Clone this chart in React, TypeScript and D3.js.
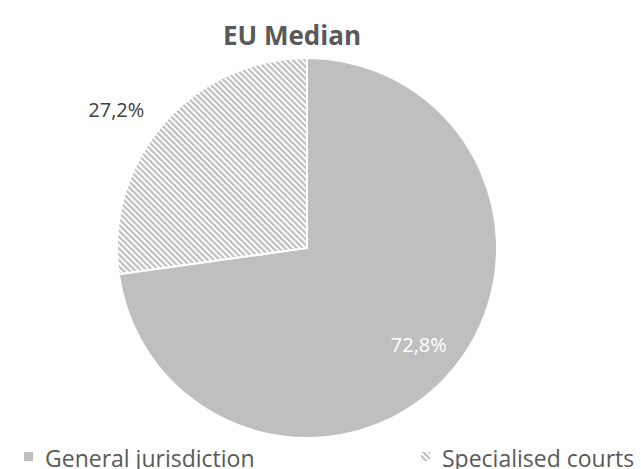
import React from 'react';
import * as d3 from 'd3';

const categories = ['General jurisdiction', 'Specialised courts'];
const values = [72.8, 27.2];
const labels = ['72,8%', '27,2%'];

const W = 641;
const H = 469;
const FONT = '"Open Sans", sans-serif';

const App: React.FC = () => {
  const cx = 307;
  const cy = 248;
  const r = 190;

  const pie = d3.pie<number>().sort(null).value(d => d);
  const arcs = pie(values);
  const arc = d3.arc<d3.PieArcDatum<number>>().innerRadius(0).outerRadius(r);
  // big slice label inside, small slice label outside (best fit)
  const labelRadius = [r * 0.78, r * 1.24];
  const labelShift = [[0, 0], [-13, 17]];

  const fills = ['#bfbfbf', 'url(#hatch)'];
  const labelColors = ['#ffffff', '#404040'];

  return (
    <svg width={W} height={H} style={{ position: 'absolute', left: 0, top: 0, background: '#fff' }}>
      <defs>
        <pattern id="hatch" patternUnits="userSpaceOnUse" width={4.2} height={4.2} patternTransform="rotate(-45)">
          <rect width={4.2} height={4.2} fill="#ffffff" />
          <rect width={2.2} height={4.2} fill="#bfbfbf" />
        </pattern>
      </defs>
      <text x={292} y={45} textAnchor="middle" fontFamily={FONT} fontWeight="bold" fontSize={26} fill="#595959">
        EU Median
      </text>
      <g transform={`translate(${cx},${cy})`}>
        {arcs.map((a, i) => (
          <path key={i} d={arc(a) || ''} fill={fills[i]} stroke="#ffffff" strokeWidth={2} />
        ))}
        {arcs.map((a, i) => {
          const la = d3.arc<d3.PieArcDatum<number>>().innerRadius(labelRadius[i]).outerRadius(labelRadius[i]);
          const [x, y] = la.centroid(a);
          return (
            <text
              key={'l' + i}
              x={x + labelShift[i][0]}
              y={y + labelShift[i][1]}
              dy="0.35em"
              textAnchor="middle"
              fontFamily={FONT}
              fontSize={20}
              fill={labelColors[i]}
            >
              {labels[i]}
            </text>
          );
        })}
      </g>
      <g fontFamily={FONT} fontSize={23} fill="#595959">
        {categories.map((c, i) => {
          const x = i === 0 ? 24 : 421;
          return (
            <g key={c} transform={`translate(${x},0)`}>
              <rect x={0} y={452} width={9} height={9} fill={fills[i]} />
              <text x={21} y={467}>{c}</text>
            </g>
          );
        })}
      </g>
    </svg>
  );
};

export default App;
